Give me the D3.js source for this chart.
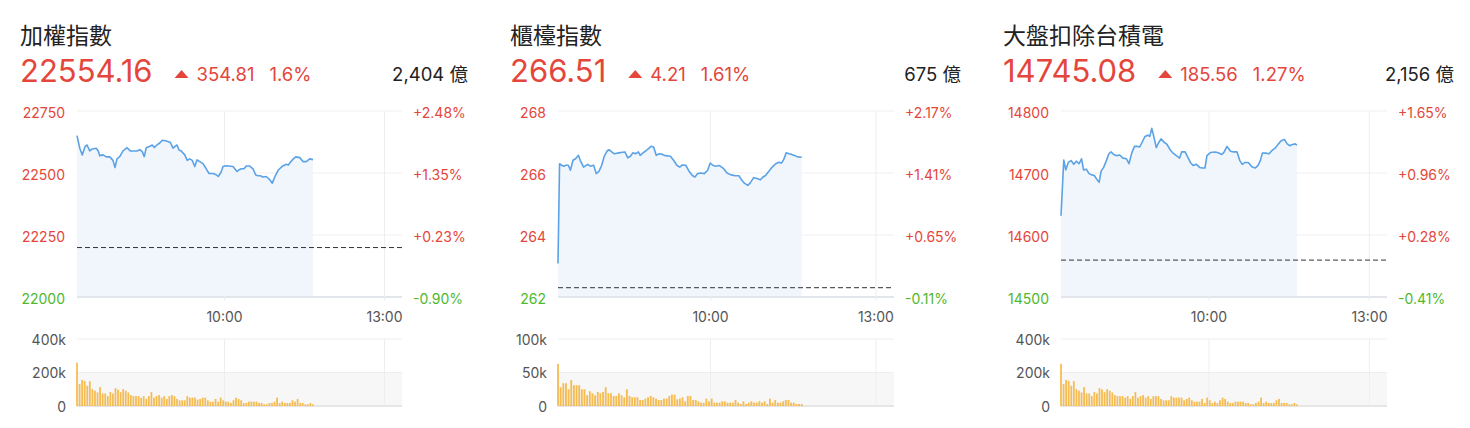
<!DOCTYPE html>
<html>
<head>
<meta charset="utf-8">
<script src="https://cdn.jsdelivr.net/npm/d3@7"></script>
<style>
body { margin: 0; background: #fff; }
svg text { font-family: Inter, "Liberation Sans", Arial, "Noto Sans CJK TC", sans-serif; }
svg text.title { font-family: "Noto Sans CJK TC", sans-serif; }
</style>
</head>
<body>
<svg id="chart"></svg>
<script>
// header values
var names = ["加權指數", "櫃檯指數", "大盤扣除台積電"];
var prices = [22554.16, 266.51, 14745.08];
var changes = [354.81, 4.21, 185.56];
var pctText = ["1.6%", "1.61%", "1.27%"];
var amounts = ["2,404 億", "675 億", "2,156 億"];

// axis ticks
var priceTicks = [[22000, 22250, 22500, 22750], [262, 264, 266, 268], [14500, 14600, 14700, 14800]];
var volTicks = [[0, 200, 400], [0, 50, 100], [0, 200, 400]];   // in k
var timeSlots = [59, 123];
var timeLabels = ["10:00", "13:00"];
var slotTotal = 130;

// 加權指數
var taiexSlot = [0, 1.1, 2.1, 3.2, 4, 5.1, 6.1, 7.7, 8.5, 9.1, 10.4, 11.7, 13.1, 14.4, 15.2, 16, 17.1, 18.4, 20, 21.3,
    22.4, 24, 25.1, 26.1, 26.9, 27.7, 29.1, 30.1, 30.9, 32, 33.1, 34.1, 35.7, 37.3, 38.4, 40, 40.8, 41.7, 43.1, 44.1,
    45.1, 46.1, 47.1, 48, 49.1, 50.4, 51.7, 52.8, 54.4, 55.7, 56.5, 57.6, 58.4, 59.7, 62.4, 64, 64.8, 65.7, 66.8, 67.7,
    69.1, 70.4, 71.5, 72.4, 73.3, 74.4, 75.7, 77.1, 78.1, 79.2, 80.5, 82.1, 83.7, 84.5, 85.6, 86.7, 87.5, 89.1, 90.4, 91.7,
    93.1, 94.4];
var taiexVal = [22651, 22600, 22573, 22606, 22613, 22589, 22597, 22600, 22589, 22570, 22573, 22565, 22565, 22551, 22522, 22557, 22566, 22589, 22602, 22589,
    22589, 22589, 22594, 22586, 22566, 22602, 22608, 22613, 22603, 22613, 22621, 22632, 22629, 22624, 22600, 22613, 22593, 22589, 22573, 22551,
    22557, 22551, 22526, 22553, 22546, 22538, 22517, 22498, 22498, 22493, 22486, 22503, 22526, 22529, 22526, 22506, 22513, 22517, 22517, 22528,
    22528, 22517, 22492, 22489, 22489, 22484, 22486, 22473, 22459, 22486, 22512, 22527, 22535, 22532, 22546, 22559, 22565, 22562, 22546, 22546,
    22557, 22554];
var taiexVol = [259, 131, 156, 149, 121, 147, 101, 91, 81, 113, 75, 75, 59, 83, 75, 107, 97, 83, 101, 91,
    81, 65, 59, 59, 59, 48, 59, 42, 59, 83, 50, 59, 65, 50, 59, 42, 59, 65, 59, 42,
    34, 34, 34, 59, 50, 50, 50, 38, 42, 50, 50, 34, 26, 26, 42, 26, 50, 34, 26, 26,
    18, 34, 50, 42, 34, 18, 18, 26, 26, 26, 26, 18, 18, 10, 10, 18, 18, 26, 50, 18,
    26, 18, 18, 18, 34, 26, 42, 18, 18, 10, 10, 18, 10];

// 櫃檯指數
var otcSlot = [0, 0.6, 1.4, 2.2, 3, 4, 4.8, 5.8, 6.8, 7.9, 8.6, 9.9, 11.5, 12.5, 13.8, 14.8, 15.9, 16.9, 17.9, 19,
    19.7, 20.8, 21.8, 23.6, 24.9, 25.9, 27, 28, 29, 30, 31.1, 31.8, 32.9, 33.9, 34.9, 36, 37, 38, 39.1, 40.4,
    41.6, 43.5, 44.7, 46, 47.1, 48.1, 49.4, 50.7, 52, 53, 54, 55.3, 56.6, 57.9, 58.9, 59.9, 61, 62.5, 64.1, 65.4,
    66.9, 68.7, 70, 71, 72, 73.4, 74.4, 75.7, 77, 78.3, 79.3, 80.3, 81.6, 82.9, 84.2, 85.5, 86.5, 87.3, 88.3, 89.4,
    90.4, 91.7, 92.7, 94.3];
var otcVal = [263.08, 266.30, 266.25, 266.22, 266.25, 266.25, 266.09, 266.41, 266.46, 266.57, 266.41, 266.19, 266.28, 266.22, 266.25, 265.98, 266.06, 266.25, 266.54, 266.71,
    266.75, 266.68, 266.62, 266.65, 266.67, 266.68, 266.49, 266.54, 266.65, 266.62, 266.68, 266.57, 266.65, 266.71, 266.78, 266.86, 266.84, 266.57, 266.62, 266.60,
    266.56, 266.54, 266.41, 266.25, 266.19, 266.26, 266.25, 266.06, 265.92, 265.87, 265.98, 266.00, 265.98, 266.09, 266.32, 266.25, 266.22, 266.24, 266.14, 266.00,
    265.94, 265.91, 265.91, 265.78, 265.68, 265.60, 265.68, 265.85, 265.82, 265.78, 265.87, 265.92, 266.06, 266.19, 266.30, 266.35, 266.32, 266.43, 266.65, 266.62,
    266.60, 266.56, 266.52, 266.51];
var otcVol = [63, 28, 34, 34, 25, 39, 31, 31, 31, 25, 25, 16, 22, 19, 16, 21, 19, 21, 28, 19,
    19, 15, 15, 19, 16, 13, 25, 15, 13, 13, 13, 9, 9, 11, 13, 15, 13, 11, 9, 9,
    11, 11, 15, 17, 17, 10, 11, 13, 7, 15, 15, 9, 9, 7, 5, 5, 11, 7, 11, 5,
    5, 5, 7, 7, 5, 5, 5, 9, 5, 3, 7, 3, 5, 7, 5, 5, 7, 5, 7, 3,
    11, 5, 9, 5, 5, 7, 9, 9, 5, 5, 3, 3, 3];

// 大盤扣除台積電
var exSlot = [0, 1.1, 1.9, 2.9, 4, 5.1, 6.1, 7.2, 8.2, 9, 10.1, 11.2, 12.2, 13.3, 14.4, 15.2, 16, 17, 18.1, 19.1,
    19.9, 21, 22.3, 23.4, 24.7, 26.1, 27.1, 28.2, 29.3, 30.3, 31.4, 32.4, 33.5, 34.6, 35.4, 36.2, 37, 38, 38.8, 39.9,
    41, 42.3, 43.6, 44.7, 46, 47.3, 48.1, 49.5, 50.5, 51.6, 52.7, 54, 55.3, 56.4, 57.4, 58.2, 59.6, 61.2, 62.5, 64.1,
    64.9, 66.2, 67.6, 68.9, 70.2, 71.3, 72.3, 73.4, 74.7, 76.1, 77.4, 78.5, 79.5, 80.3, 81.6, 83, 84.3, 85.6, 86.7, 87.8,
    89.1, 90.2, 91.2, 92.3, 93.4, 94.1];
var exVal = [14631, 14721, 14705, 14717, 14720, 14714, 14719, 14715, 14723, 14705, 14706, 14699, 14697, 14696, 14689, 14685, 14703, 14709, 14720, 14731,
    14734, 14730, 14728, 14729, 14724, 14723, 14715, 14732, 14743, 14743, 14742, 14750, 14759, 14761, 14759, 14772, 14759, 14741, 14748, 14755,
    14750, 14746, 14737, 14732, 14728, 14724, 14734, 14734, 14726, 14717, 14712, 14714, 14709, 14708, 14708, 14728, 14733, 14734, 14733, 14730,
    14733, 14743, 14735, 14734, 14734, 14720, 14714, 14717, 14717, 14710, 14708, 14712, 14720, 14732, 14732, 14731, 14737, 14741, 14747, 14752,
    14754, 14747, 14744, 14746, 14747, 14745];
var exVol = [252, 131, 156, 149, 121, 149, 101, 91, 81, 113, 75, 75, 59, 83, 75, 107, 99, 83, 101, 91,
    81, 65, 59, 59, 59, 50, 59, 42, 59, 83, 50, 59, 65, 50, 59, 42, 59, 59, 59, 42,
    34, 34, 34, 59, 50, 50, 50, 50, 34, 42, 50, 34, 26, 26, 26, 42, 18, 50, 34, 18,
    26, 18, 34, 50, 42, 26, 18, 18, 26, 26, 26, 26, 18, 18, 10, 10, 18, 26, 50, 18,
    26, 18, 18, 18, 34, 42, 18, 18, 18, 10, 10, 18, 10];

var slots = [taiexSlot, otcSlot, exSlot];
var vals = [taiexVal, otcVal, exVal];
var vols = [taiexVol, otcVol, exVol];

var layout = [
    {left: 20, right: 468, plotL: 77, plotR: 402},
    {left: 510, right: 961, plotL: 558, plotR: 894},
    {left: 1003, right: 1454, plotL: 1061, plotR: 1387}
];

var red = "#e4463b", green = "#4fb82c";
var width = 1470, height = 428;

var svg = d3.select("#chart")
    .attr("width", width)
    .attr("height", height);

for (var i = 0; i < 3; i++) drawPanel(i);

function pctLabel(v) {
    return (v >= 0 ? "+" : "") + v.toFixed(2) + "%";
}

function drawPanel(i) {
    var L = layout[i];
    var g = svg.append("g");
    var prev = prices[i] - changes[i];
    var ticks = priceTicks[i];

    var x = d3.scaleLinear().domain([0, slotTotal]).range([L.plotL, L.plotR]);
    var y = d3.scaleLinear().domain([ticks[0], ticks[ticks.length - 1]]).range([297, 111]);
    var yv = d3.scaleLinear().domain([0, volTicks[i][volTicks[i].length - 1]]).range([406, 339]);

    // header
    g.append("text").attr("class", "title")
        .attr("x", L.left).attr("y", 44)
        .attr("font-size", 23).attr("fill", "#222")
        .text(names[i]);
    var price = g.append("text")
        .attr("x", L.left).attr("y", 82)
        .attr("font-size", 31).attr("fill", red)
        .text(prices[i].toFixed(2));
    var tx = L.left + price.node().getComputedTextLength() + 22;
    g.append("path")
        .attr("d", "M" + tx + ",78L" + (tx + 7) + ",70L" + (tx + 14) + ",78Z")
        .attr("fill", red);
    var chg = g.append("text")
        .attr("x", tx + 22).attr("y", 81)
        .attr("font-size", 18.5).attr("fill", red)
        .text(changes[i].toFixed(2));
    g.append("text")
        .attr("x", tx + 22 + chg.node().getComputedTextLength() + 15).attr("y", 81)
        .attr("font-size", 18.5).attr("fill", red)
        .text(pctText[i]);
    g.append("text")
        .attr("x", L.right).attr("y", 81)
        .attr("text-anchor", "end")
        .attr("font-size", 18.5).attr("fill", "#222")
        .text(amounts[i]);

    // horizontal grid
    g.selectAll(".hgrid").data(ticks).enter().append("line")
        .attr("x1", L.plotL).attr("x2", L.plotR)
        .attr("y1", function(d) { return y(d); })
        .attr("y2", function(d) { return y(d); })
        .attr("stroke", function(d, k) { return k == 0 ? "#e2e5e9" : "#efefef"; })
        .attr("stroke-width", function(d, k) { return k == 0 ? 2 : 1; });

    // vertical grid
    g.selectAll(".vgrid").data(timeSlots).enter().append("line")
        .attr("x1", function(d) { return x(d); })
        .attr("x2", function(d) { return x(d); })
        .attr("y1", 111).attr("y2", 301)
        .attr("stroke", "#eeeeee");

    // area + line
    var pts = slots[i].map(function(s, k) { return [s, vals[i][k]]; });
    var area = d3.area()
        .x(function(d) { return x(d[0]); })
        .y0(296)
        .y1(function(d) { return y(d[1]); });
    var line = d3.line()
        .x(function(d) { return x(d[0]); })
        .y(function(d) { return y(d[1]); });
    g.append("path").attr("d", area(pts)).attr("fill", "#eef5fc").attr("opacity", 0.9);
    g.append("path").attr("d", line(pts))
        .attr("fill", "none").attr("stroke", "#5ba2e6")
        .attr("stroke-width", 1.6).attr("stroke-linejoin", "round");

    // previous close
    g.append("line")
        .attr("x1", L.plotL).attr("x2", L.plotR)
        .attr("y1", y(prev)).attr("y2", y(prev))
        .attr("stroke", "#333").attr("stroke-dasharray", "5,3");

    // left labels
    g.selectAll(".ly").data(ticks).enter().append("text")
        .attr("x", L.plotL - 12)
        .attr("y", function(d) { return y(d); })
        .attr("dy", "0.47em")
        .attr("text-anchor", "end")
        .attr("font-size", 14)
        .attr("fill", function(d) { return d < prev ? green : red; })
        .text(function(d) { return d; });

    // right labels
    g.selectAll(".ry").data(ticks).enter().append("text")
        .attr("x", L.plotR + 11)
        .attr("y", function(d) { return y(d); })
        .attr("dy", "0.47em")
        .attr("font-size", 14)
        .attr("fill", function(d) { return d < prev ? green : red; })
        .text(function(d) { return pctLabel((d - prev) / prev * 100); });

    // time labels
    g.selectAll(".tl").data(timeSlots).enter().append("text")
        .attr("x", function(d) { return x(d); })
        .attr("y", 322)
        .attr("text-anchor", "middle")
        .attr("font-size", 14).attr("fill", "#555")
        .text(function(d, k) { return timeLabels[k]; });

    // volume
    var vt = volTicks[i];
    g.append("rect")
        .attr("x", L.plotL).attr("width", L.plotR - L.plotL)
        .attr("y", yv(vt[1])).attr("height", yv(0) - yv(vt[1]))
        .attr("fill", "#f7f7f7");
    g.selectAll(".vg").data(vt).enter().append("line")
        .attr("x1", L.plotL).attr("x2", L.plotR)
        .attr("y1", function(d) { return yv(d); })
        .attr("y2", function(d) { return yv(d); })
        .attr("stroke", function(d, k) { return k == 0 ? "#e6e6e6" : "#eeeeee"; })
        .attr("stroke-width", function(d, k) { return k == 0 ? 2 : 1; });
    g.selectAll(".vv").data(timeSlots).enter().append("line")
        .attr("x1", function(d) { return x(d); })
        .attr("x2", function(d) { return x(d); })
        .attr("y1", 339).attr("y2", 406)
        .attr("stroke", "#eeeeee");

    var v = vols[i];
    var lastSlot = slots[i][slots[i].length - 1];
    var step = lastSlot / (v.length - 1);
    var bw = (x(step) - x(0)) * 0.7;
    g.selectAll(".bar").data(v).enter().append("rect")
        .attr("x", function(d, k) { return x(k * step) - bw / 2; })
        .attr("width", bw)
        .attr("y", function(d) { return yv(d); })
        .attr("height", function(d) { return yv(0) - yv(d); })
        .attr("fill", "#f5b43c")
        .attr("opacity", 0.88);

    g.selectAll(".vl").data(vt).enter().append("text")
        .attr("x", L.plotL - 11)
        .attr("y", function(d) { return yv(d); })
        .attr("dy", "0.4em")
        .attr("text-anchor", "end")
        .attr("font-size", 14).attr("fill", "#555")
        .text(function(d) { return d == 0 ? "0" : d + "k"; });
}
</script>
</body>
</html>
